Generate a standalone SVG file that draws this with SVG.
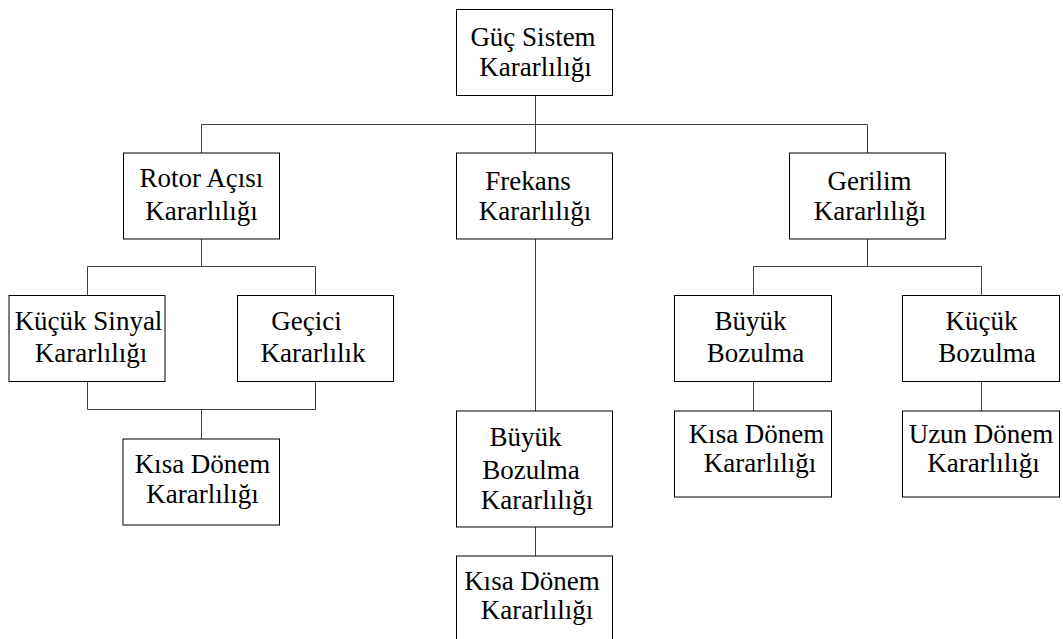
<svg xmlns="http://www.w3.org/2000/svg" width="1063" height="639" viewBox="0 0 1063 639">
<style>
.box{fill:#fff;stroke:#000;stroke-width:1}
.t{font-family:"Liberation Serif","Times New Roman",Tinos,"Nimbus Roman","FreeSerif","Noto Serif","DejaVu Serif",serif;font-size:27px;fill:#000;text-anchor:middle}
.c{stroke:#404040;stroke-width:1;fill:none}
</style>
<rect width="1063" height="639" fill="#fff"/>
<g id="connectors">
<path class="c" d="M535.5 95V124.5M201.5 124.5H867.5M201.5 124.5V153M535.5 124.5V153M867.5 124.5V153"/>
<path class="c" d="M201.5 239V266.5M87.5 266.5H315.5M87.5 266.5V295.5M315.5 266.5V295.5"/>
<path class="c" d="M87.5 381.5V409.5M315.5 381.5V409.5M87.5 409.5H315.5M201.5 409.5V439"/>
<path class="c" d="M535.5 239V411M535.5 527V556"/>
<path class="c" d="M867.5 239V266.5M753.5 266.5H981.5M753.5 266.5V295.5M981.5 266.5V295.5"/>
<path class="c" d="M753.5 381.5V411M981.5 381.5V411"/>
</g>
<g id="guc">
<rect class="box" x="456.5" y="9.5" width="156" height="86"/>
<text class="t" x="533" y="46">Güç Sistem</text>
<text class="t" x="535.5" y="76">Kararlılığı</text>
</g>
<g id="rotor">
<rect class="box" x="123.5" y="153" width="156" height="86"/>
<text class="t" x="201.5" y="187">Rotor Açısı</text>
<text class="t" x="201.5" y="220">Kararlılığı</text>
</g>
<g id="frekans">
<rect class="box" x="456.5" y="153" width="156" height="86"/>
<text class="t" x="528" y="190">Frekans</text>
<text class="t" x="535" y="220">Kararlılığı</text>
</g>
<g id="gerilim">
<rect class="box" x="789.5" y="153" width="156" height="86"/>
<text class="t" x="869.5" y="190">Gerilim</text>
<text class="t" x="870" y="220">Kararlılığı</text>
</g>
<g id="kucuk-sinyal">
<rect class="box" x="9" y="295.5" width="156" height="86"/>
<text class="t" x="88.5" y="330">Küçük Sinyal</text>
<text class="t" x="91" y="361.5">Kararlılığı</text>
</g>
<g id="gecici">
<rect class="box" x="237.5" y="295.5" width="156" height="86"/>
<text class="t" x="306.5" y="330">Geçici</text>
<text class="t" x="313" y="361.5">Kararlılık</text>
</g>
<g id="kisa-donem-rotor">
<rect class="box" x="123" y="439" width="156.5" height="86"/>
<text class="t" x="202.5" y="473">Kısa Dönem</text>
<text class="t" x="202.5" y="503">Kararlılığı</text>
</g>
<g id="buyuk-bozulma-frekans">
<rect class="box" x="456.5" y="411" width="156" height="116"/>
<text class="t" x="525.5" y="445.5">Büyük</text>
<text class="t" x="531" y="478.5">Bozulma</text>
<text class="t" x="537" y="509">Kararlılığı</text>
</g>
<g id="kisa-donem-frekans">
<rect class="box" x="456.5" y="556" width="156" height="100"/>
<text class="t" x="532" y="590">Kısa Dönem</text>
<text class="t" x="537" y="619">Kararlılığı</text>
</g>
<g id="buyuk-bozulma">
<rect class="box" x="674.5" y="295.5" width="157" height="86"/>
<text class="t" x="750.5" y="330">Büyük</text>
<text class="t" x="755.5" y="361.5">Bozulma</text>
</g>
<g id="kucuk-bozulma">
<rect class="box" x="902.5" y="295.5" width="157" height="86"/>
<text class="t" x="981.5" y="330">Küçük</text>
<text class="t" x="987" y="361.5">Bozulma</text>
</g>
<g id="kisa-donem-gerilim">
<rect class="box" x="674.5" y="411" width="157" height="86"/>
<text class="t" x="756.5" y="443">Kısa Dönem</text>
<text class="t" x="760" y="472">Kararlılığı</text>
</g>
<g id="uzun-donem">
<rect class="box" x="902.5" y="411" width="157" height="86"/>
<text class="t" x="981" y="443">Uzun Dönem</text>
<text class="t" x="983.5" y="472">Kararlılığı</text>
</g>
</svg>
